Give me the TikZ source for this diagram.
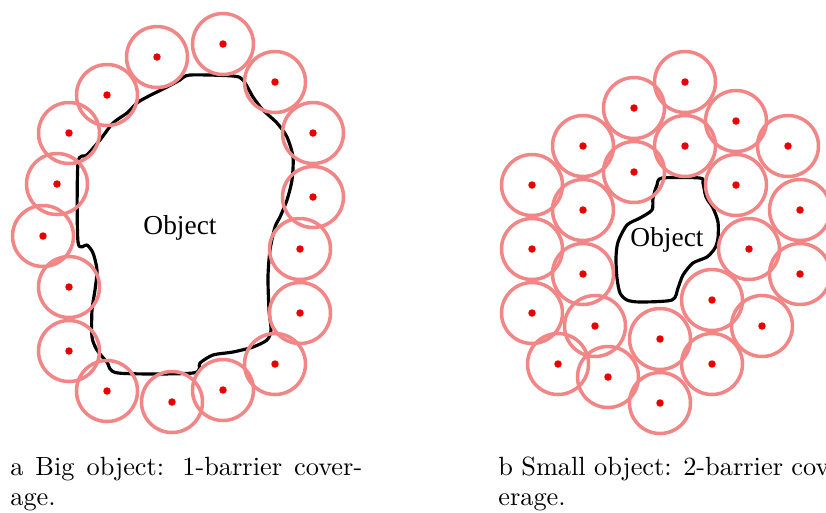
\documentclass[tikz,border=0pt]{standalone}
\usepackage{fontspec}
\newfontfamily\objfont{Liberation Serif}
\newfontfamily\capfont{lmroman10-regular.otf}
\definecolor{sensorpink}{RGB}{242,134,134}
\definecolor{dotred}{RGB}{235,0,0}

\begin{document}
\begin{tikzpicture}[x=0.02cm, y=-0.02cm,
  sensor/.style={circle, draw=sensorpink, line width=2pt, minimum size=1.22cm, inner sep=0pt,
    path picture={\fill[dotred] (path picture bounding box.center) circle (0.075cm);}},
  outline/.style={line width=1.8pt, line join=round},
  objlabel/.style={font=\objfont\fontsize{15.6}{18}\selectfont, inner sep=0pt},
  caption/.style={anchor=base west, inner sep=0pt, font=\capfont\fontsize{15}{18}\selectfont}]
\useasboundingbox (0,0) rectangle (826,512);

% big object
\draw[outline] plot[smooth cycle, tension=0.45] coordinates {(190,75) (233,76) (243,80) (253,97) (263,110) (277,123) (287,137) (293,157) (292,180) (287,200) (280,217) (275,227) (270,250) (268,277) (269,310) (271,330) (267,340) (253,347) (233,352) (213,355) (200,363) (193,373) (118,373) (107,362) (97,350) (92,337) (92,310) (95,290) (97,270) (93,253) (87,245) (78,242) (78,163) (87,155) (100,140) (113,123) (127,113) (137,103) (147,97) (167,87) (180,80)};
\node[objlabel] (obja) at (180, 228) {Object};

\node[sensor] (a1) at (157, 57) {};
\node[sensor] (a2) at (223, 44) {};
\node[sensor] (a3) at (275, 82) {};
\node[sensor] (a4) at (313, 133) {};
\node[sensor] (a5) at (313, 197) {};
\node[sensor] (a6) at (300, 249) {};
\node[sensor] (a7) at (300, 313) {};
\node[sensor] (a8) at (275, 364) {};
\node[sensor] (a9) at (223, 390) {};
\node[sensor] (a10) at (172, 402) {};
\node[sensor] (a11) at (107, 391) {};
\node[sensor] (a12) at (69, 351) {};
\node[sensor] (a13) at (69, 287) {};
\node[sensor] (a14) at (43, 236) {};
\node[sensor] (a15) at (57, 184) {};
\node[sensor] (a16) at (69, 133) {};
\node[sensor] (a17) at (107, 95) {};

% small object
\draw[outline] plot[smooth cycle, tension=0.45] coordinates {(662,178) (700,178) (703,183) (706,197) (713,208) (718,222) (718,238) (715,248) (707,257) (693,263) (683,275) (678,288) (672,300) (640,302) (627,300) (620,293) (617,278) (616,258) (618,242) (627,225) (640,218) (652,210) (653,198) (657,185)};
\node[objlabel] (objb) at (667, 240) {Object};

\node[sensor] (b1) at (685, 82) {};
\node[sensor] (b2) at (634, 108) {};
\node[sensor] (b3) at (736, 121) {};
\node[sensor] (b4) at (583, 146) {};
\node[sensor] (b5) at (685, 146) {};
\node[sensor] (b6) at (788, 146) {};
\node[sensor] (b7) at (634, 172) {};
\node[sensor] (b8) at (532, 185) {};
\node[sensor] (b9) at (736, 185) {};
\node[sensor] (b10) at (583, 210) {};
\node[sensor] (b11) at (800, 210) {};
\node[sensor] (b12) at (532, 249) {};
\node[sensor] (b13) at (749, 249) {};
\node[sensor] (b14) at (583, 274) {};
\node[sensor] (b15) at (800, 274) {};
\node[sensor] (b16) at (532, 313) {};
\node[sensor] (b17) at (712, 300) {};
\node[sensor] (b18) at (595, 326) {};
\node[sensor] (b19) at (762, 326) {};
\node[sensor] (b20) at (660, 339) {};
\node[sensor] (b21) at (558, 364) {};
\node[sensor] (b22) at (712, 364) {};
\node[sensor] (b23) at (608, 377) {};
\node[sensor] (b24) at (660, 403) {};

% captions
\node[caption] (capa1) at (10, 475) {\makebox[7.04cm][s]{a Big object: 1-barrier cover-}};
\node[caption] (capa2) at (10, 505) {age.};
\node[caption] (capb1) at (498, 475) {\makebox[6.8cm][s]{b Small object: 2-barrier cov-}};
\node[caption] (capb2) at (498, 505) {erage.};
\end{tikzpicture}
\end{document}
